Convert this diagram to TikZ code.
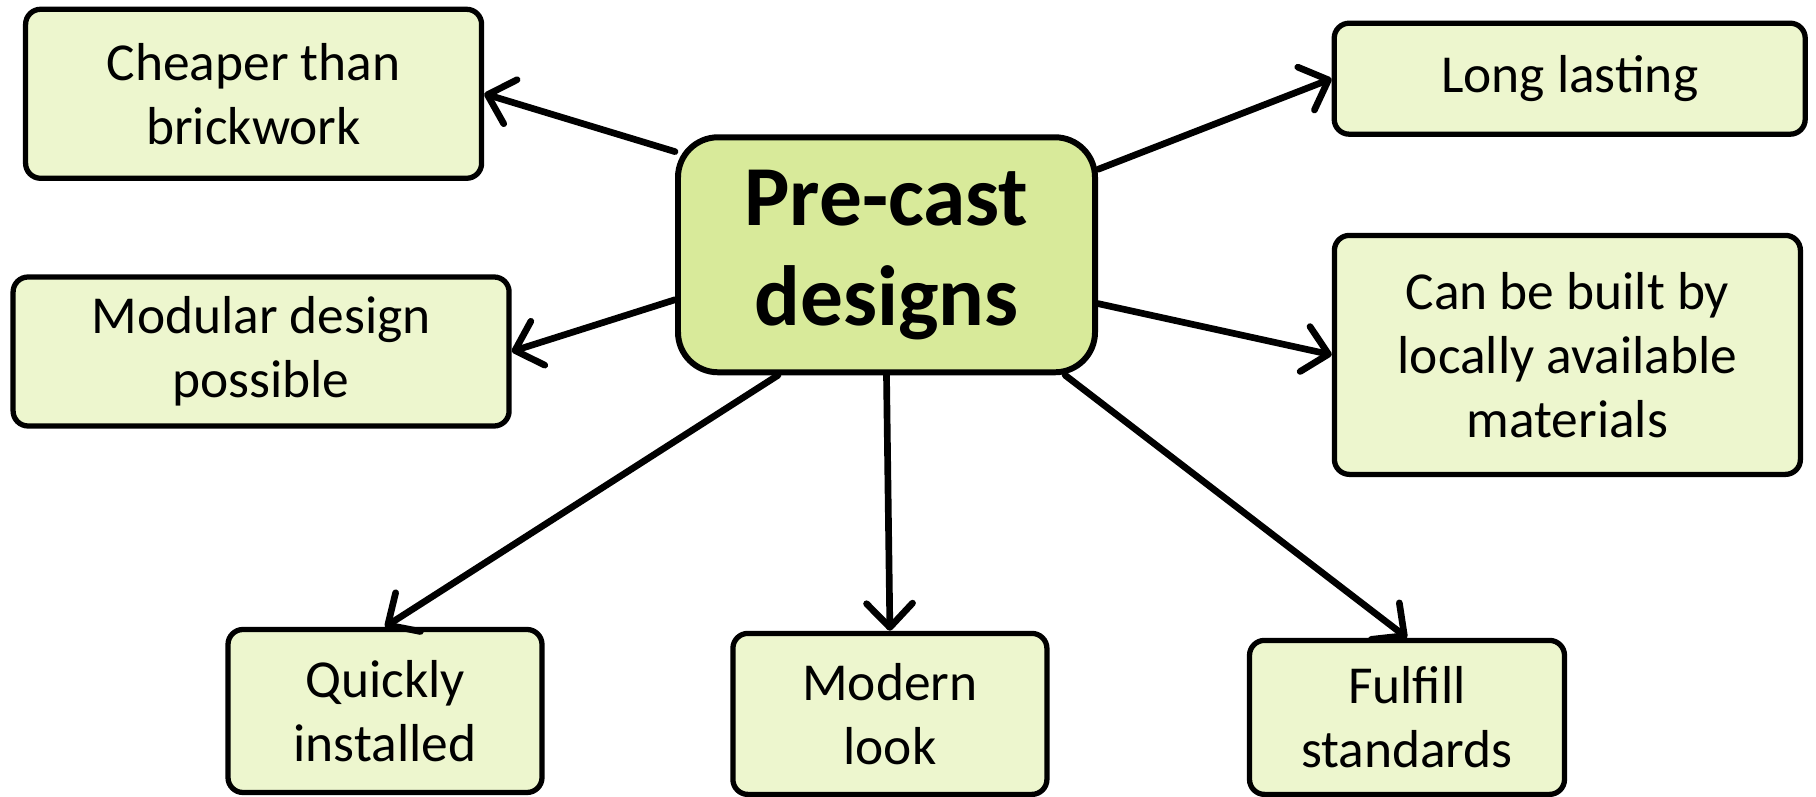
\documentclass[tikz,border=0pt]{standalone}
\usepackage{fontspec}
\setmainfont{Carlito}
\usepackage{xcolor}
\usepackage{tikz}
\usetikzlibrary{arrows.meta}

\definecolor{leaffill}{HTML}{EDF6CE}
\definecolor{hubfill}{HTML}{D8EA9A}

\tikzset{
	leaf/.style={draw=black, fill=leaffill, line width=1.5pt, rounded corners=0.15cm,
		align=center, inner sep=0pt, font=\fontsize{15.2}{18.2}\selectfont},
	hub/.style={draw=black, fill=hubfill, line width=1.7pt, rounded corners=0.4cm,
		align=center, inner sep=0pt, font=\fontsize{24.3}{28.5}\selectfont\bfseries},
	link/.style={line width=1.9pt, line cap=round, line join=round,
		-{Straight Barb[length=2.4mm, width=4.6mm, line cap=round, line join=round]}}
}

\begin{document}
\begin{tikzpicture}
		\useasboundingbox (0,0) rectangle (18.16,7.97);
		
		\node[hub, minimum width=4.17cm, minimum height=2.35cm] (pc) at (8.865,5.422) {Pre-cast\\designs};
		
		\node[leaf, minimum width=4.56cm, minimum height=1.69cm] (cheap) at (2.536,7.032) {Cheaper than\\brickwork};
		\node[leaf, minimum width=4.96cm, minimum height=1.49cm] (modular) at (2.611,4.455) {Modular design\\possible};
		\node[leaf, minimum width=4.71cm, minimum height=1.11cm] (long) at (15.697,7.183) {Long lasting};
		\node[leaf, minimum width=4.66cm, minimum height=2.39cm] (built) at (15.674,4.421) {Can be built by\\locally available\\materials};
		\node[leaf, minimum width=3.14cm, minimum height=1.63cm] (quick) at (3.850,0.860) {Quickly\\installed};
		\node[leaf, minimum width=3.14cm, minimum height=1.61cm] (modern) at (8.899,0.831) {Modern\\look};
		\node[leaf, minimum width=3.15cm, minimum height=1.54cm] (fulfill) at (14.070,0.796) {Fulfill\\standards};
		
		\draw[link] (pc.154) -- (cheap.east);
		\draw[link] (pc.192) -- (modular.east);
		\draw[link] (pc.22) -- (long.west);
		\draw[link] (pc.-13) -- (built.west);
		\draw[link] (pc.228) -- (quick.north);
		\draw[link] (pc.south) -- (modern.north);
		\draw[link] (pc.-34.6) -- (fulfill.north);
	\end{tikzpicture}
\end{document}
